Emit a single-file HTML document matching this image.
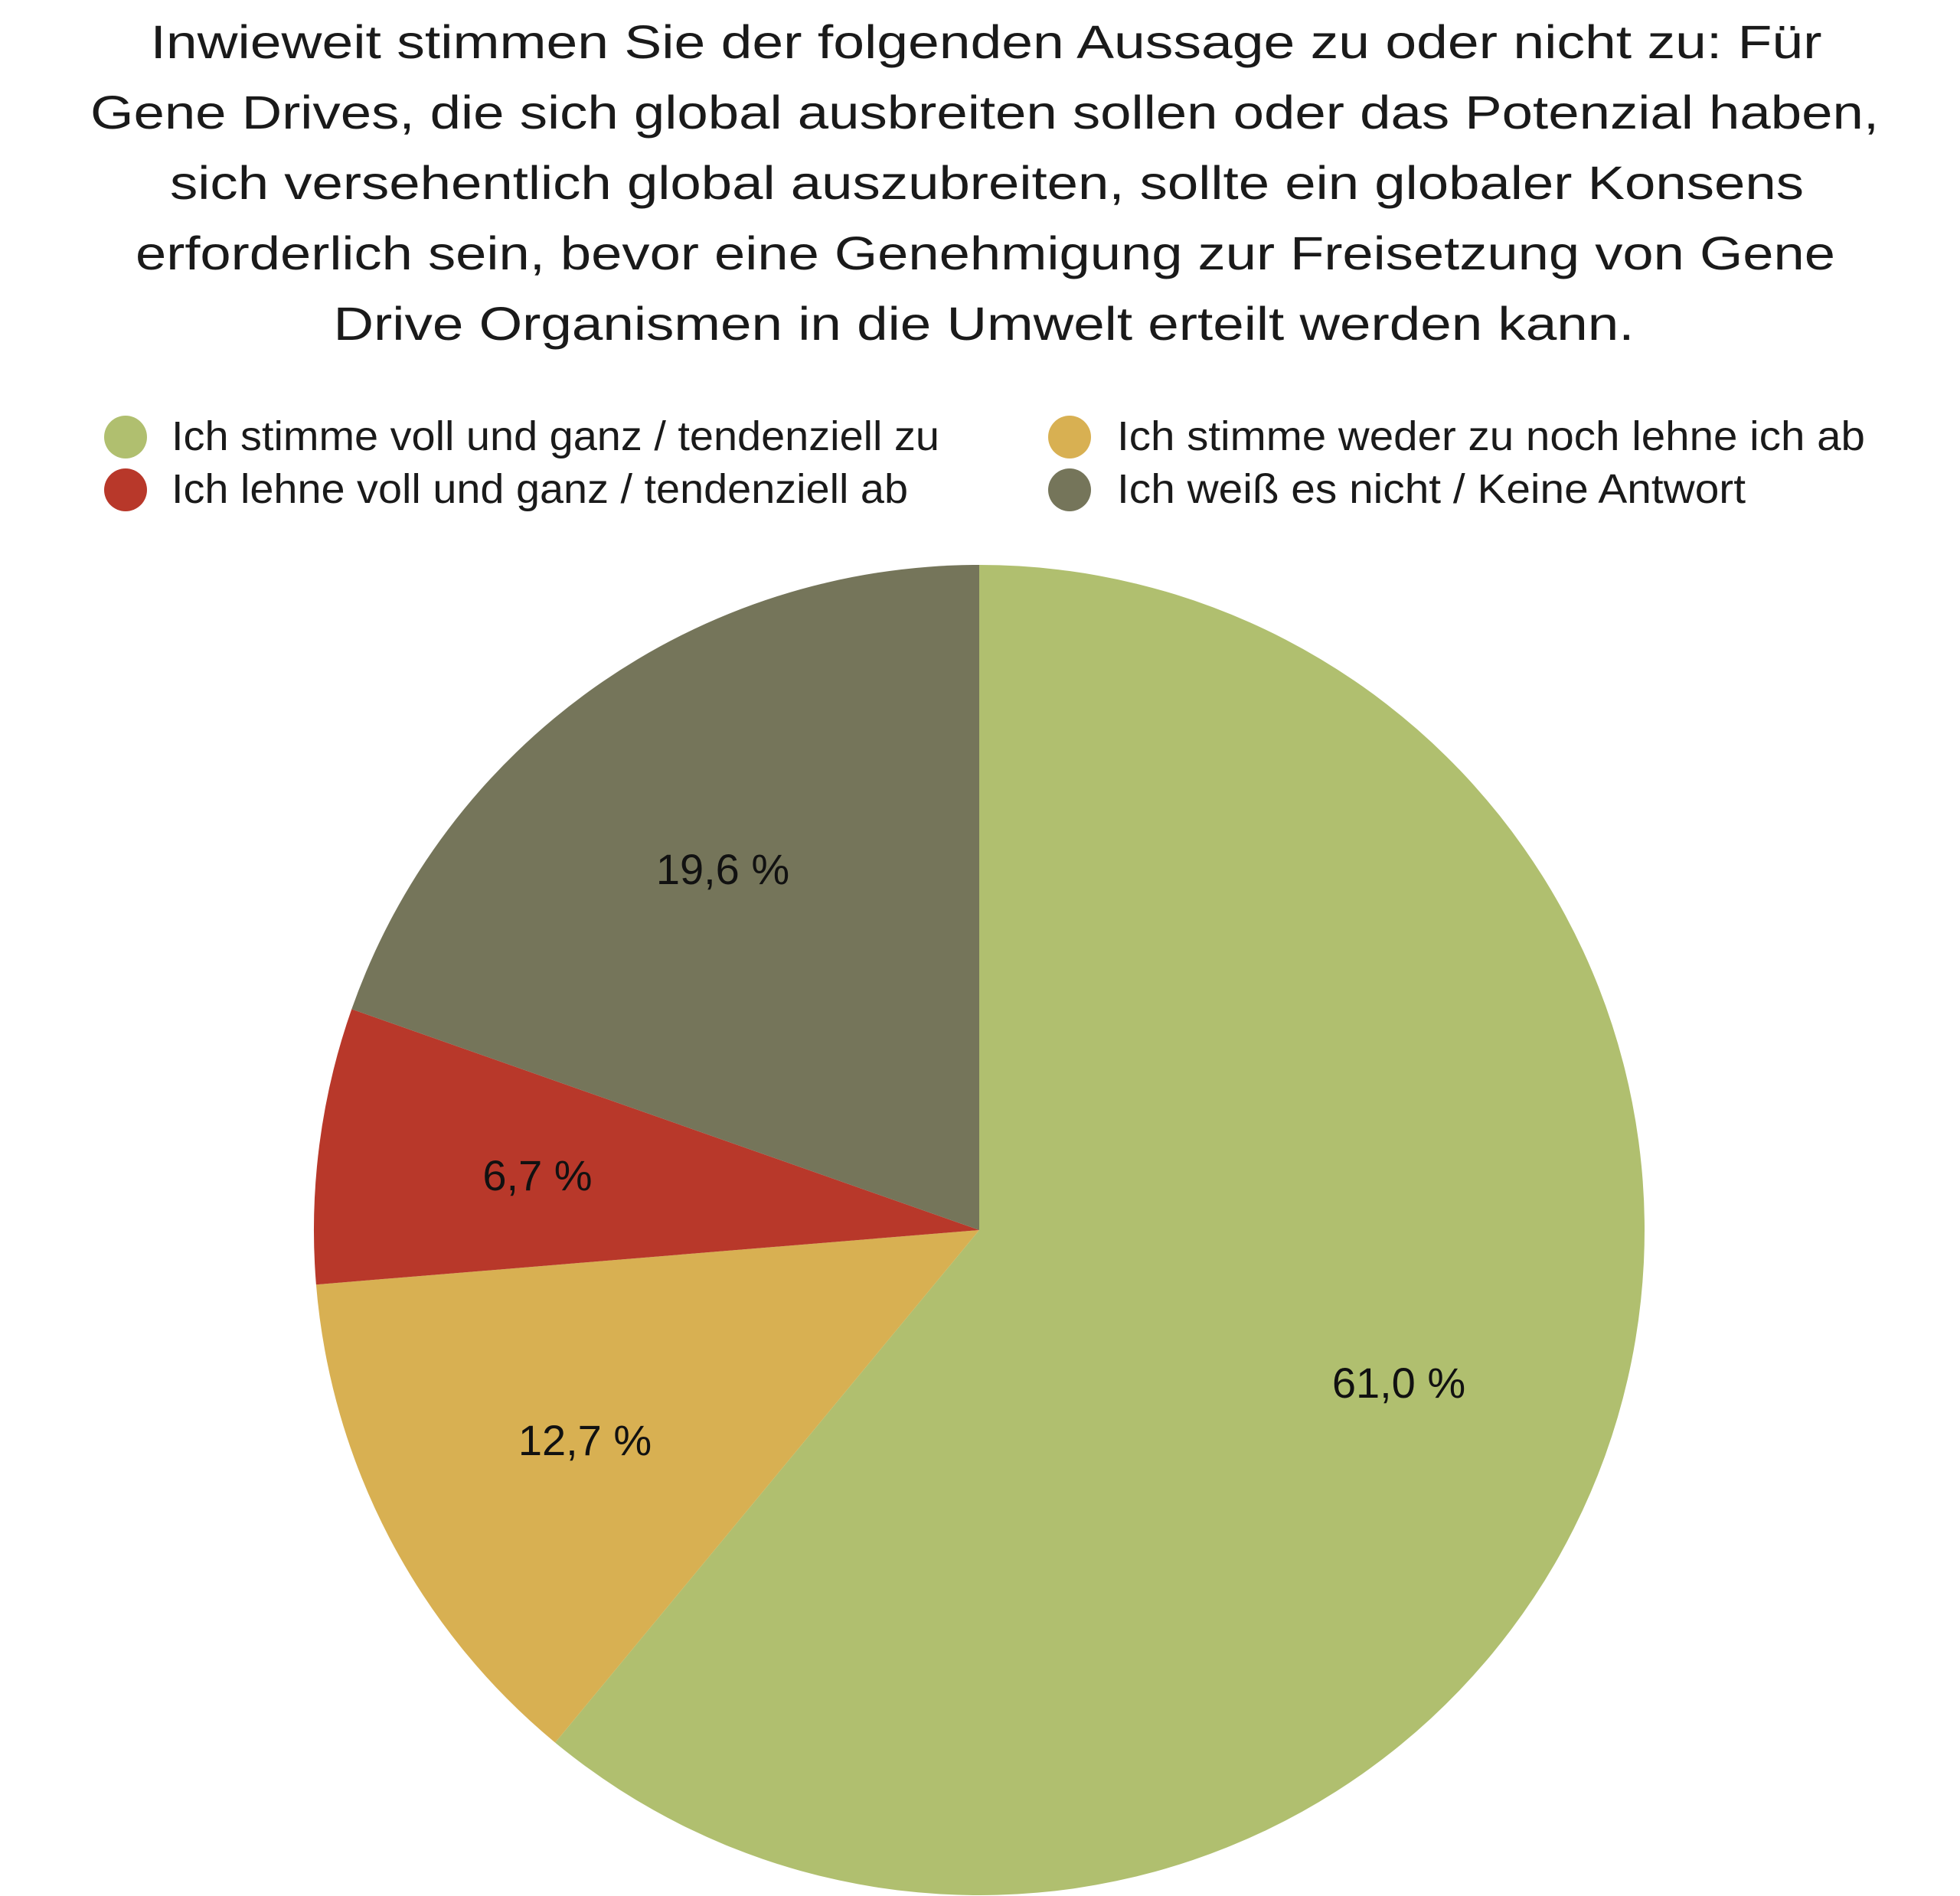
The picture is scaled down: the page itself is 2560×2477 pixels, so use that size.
<!DOCTYPE html>
<html><head><meta charset="utf-8"><style>html,body{margin:0;padding:0;background:#fff;}svg{display:block}</style></head>
<body>
<svg width="2560" height="2477" viewBox="0 0 2560 2477" xmlns="http://www.w3.org/2000/svg" font-family="Liberation Sans, sans-serif">
<rect width="2560" height="2477" fill="#fff"/>
<g font-size="61" fill="#1a1a1a" text-anchor="middle">
<text x="1288" y="76" textLength="2183" lengthAdjust="spacingAndGlyphs">Inwieweit stimmen Sie der folgenden Aussage zu oder nicht zu: Für</text>
<text x="1286" y="168" textLength="2336" lengthAdjust="spacingAndGlyphs">Gene Drives, die sich global ausbreiten sollen oder das Potenzial haben,</text>
<text x="1289" y="260" textLength="2134" lengthAdjust="spacingAndGlyphs">sich versehentlich global auszubreiten, sollte ein globaler Konsens</text>
<text x="1287" y="352" textLength="2220" lengthAdjust="spacingAndGlyphs">erforderlich sein, bevor eine Genehmigung zur Freisetzung von Gene</text>
<text x="1285" y="444" textLength="1699" lengthAdjust="spacingAndGlyphs">Drive Organismen in die Umwelt erteilt werden kann.</text>
</g>
<circle cx="164" cy="571" r="28" fill="#b0bf6f"/>
<circle cx="164" cy="640" r="28" fill="#b8382a"/>
<circle cx="1397" cy="571" r="28" fill="#d8b052"/>
<circle cx="1397" cy="640" r="28" fill="#75755a"/>
<g font-size="54" fill="#1a1a1a">
<text x="224" y="588" textLength="1003" lengthAdjust="spacingAndGlyphs">Ich stimme voll und ganz / tendenziell zu</text>
<text x="224" y="657" textLength="962" lengthAdjust="spacingAndGlyphs">Ich lehne voll und ganz / tendenziell ab</text>
<text x="1459" y="588" textLength="977" lengthAdjust="spacingAndGlyphs">Ich stimme weder zu noch lehne ich ab</text>
<text x="1459" y="657" textLength="821" lengthAdjust="spacingAndGlyphs">Ich weiß es nicht / Keine Antwort</text>
</g>
<path d="M1279 1607 L1279 738 A869 869 0 1 1 725.1 2276.6 Z" fill="#b0bf6f"/>
<path d="M1279 1607 L725.1 2276.6 A869 869 0 0 1 412.9 1678.2 Z" fill="#d8b052"/>
<path d="M1279 1607 L412.9 1678.2 A869 869 0 0 1 459.3 1318.4 Z" fill="#b8382a"/>
<path d="M1279 1607 L459.3 1318.4 A869 869 0 0 1 1279 738 Z" fill="#75755a"/>
<g font-size="56" fill="#111" text-anchor="middle">
<text x="944" y="1155">19,6 %</text>
<text x="702" y="1555">6,7 %</text>
<text x="764" y="1901">12,7 %</text>
<text x="1827" y="1826">61,0 %</text>
</g>
</svg>
</body></html>
